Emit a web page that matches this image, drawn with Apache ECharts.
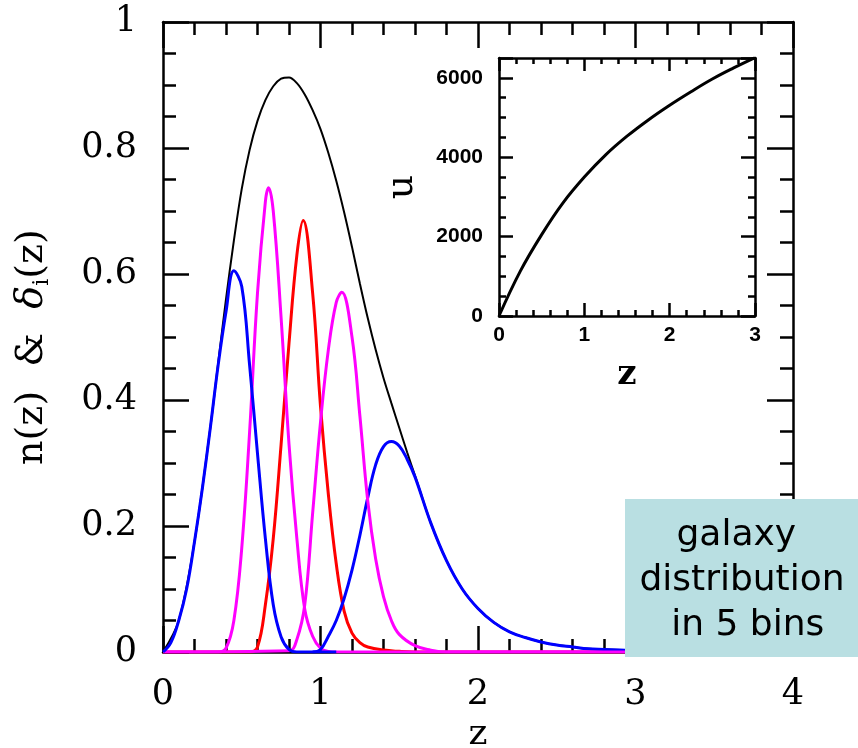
<!DOCTYPE html>
<html><head><meta charset="utf-8">
<script src="https://cdn.jsdelivr.net/npm/echarts@6/dist/echarts.min.js"></script>
<style>html,body{margin:0;padding:0;background:#fff}#c{width:858px;height:748px}</style>
</head><body><div id="c"></div>
<script>
// ---- main panel: n(z) and the 5 bins ----
const zBlack = [0,0.1,0.2,0.3,0.35,0.4,0.45,0.5,0.55,0.6,0.65,0.7,0.75,0.8,0.85,0.9,0.95,1.0,1.05,1.1,1.15,1.2,1.25,1.3,1.35,1.4,1.45,1.5,1.55,1.6,1.7,1.8,1.9,2.0,2.1,2.2,2.3,2.4,2.5,2.6,2.7,2.8,2.9,3.0];
const nBlack = [0,0.05,0.175,0.355,0.458,0.56,0.653,0.735,0.797,0.843,0.876,0.898,0.91,0.912,0.903,0.885,0.86,0.83,0.792,0.748,0.698,0.643,0.585,0.53,0.48,0.435,0.395,0.356,0.317,0.28,0.205,0.145,0.1,0.069,0.047,0.032,0.023,0.016,0.011,0.008,0.005,0.004,0.003,0.002];

const zBlue1 = [0,0.05,0.1,0.15,0.2,0.25,0.3,0.35,0.4,0.45,0.5,0.55,0.6,0.65,0.7,0.75,0.8,0.85,1.1];
const vBlue1 = [0,0.015,0.05,0.1,0.175,0.26,0.355,0.455,0.54,0.605,0.58,0.455,0.315,0.18,0.075,0.024,0.004,0,0];

const zMag1 = [0,0.35,0.4,0.45,0.5,0.55,0.6,0.65,0.67,0.7,0.75,0.8,0.85,0.9,0.95,1.0,1.05,1.1,3.0];
const vMag1 = [0,0,0.006,0.05,0.165,0.35,0.57,0.715,0.737,0.7,0.53,0.33,0.18,0.068,0.025,0.006,0.001,0,0];

const zRed = [0,0.55,0.6,0.65,0.7,0.75,0.8,0.85,0.89,0.95,1.0,1.05,1.1,1.15,1.2,1.25,1.3,1.4,1.5,1.6,3.0];
const vRed = [0,0,0.008,0.075,0.18,0.33,0.49,0.63,0.685,0.57,0.39,0.25,0.14,0.065,0.03,0.015,0.008,0.003,0.001,0,0];

const zMag2 = [0,0.8,0.85,0.9,0.95,1.0,1.05,1.1,1.135,1.2,1.25,1.3,1.35,1.4,1.45,1.5,1.6,1.7,1.8,3.0];
const vMag2 = [0,0.002,0.02,0.075,0.22,0.365,0.48,0.555,0.571,0.5,0.375,0.24,0.148,0.088,0.05,0.028,0.01,0.003,0,0];

const zBlue2 = [0.95,1.0,1.05,1.1,1.15,1.2,1.25,1.3,1.35,1.4,1.45,1.5,1.55,1.6,1.7,1.8,1.9,2.0,2.1,2.2,2.3,2.4,2.5,2.6,2.7,2.8,2.9,3.0];
const vBlue2 = [0,0.004,0.025,0.05,0.085,0.13,0.185,0.245,0.297,0.326,0.334,0.327,0.306,0.278,0.205,0.145,0.1,0.069,0.047,0.032,0.023,0.016,0.011,0.008,0.005,0.004,0.003,0.002];

// ---- inset: u(z) ----
const zU = [0,0.25,0.5,0.75,1.0,1.25,1.5,1.75,2.0,2.25,2.5,2.75,3.0];
const uVal = [0,1130,2050,2850,3500,4060,4530,4940,5310,5650,5970,6250,6510];

// ---- texts ----
const mainXName = 'z';
const mainYName = 'n(z)  &  {d|δ}{s|i}(z)';
const insetXName = 'z';
const insetYName = 'u';
const boxText = 'galaxy \ndistribution\n in 5 bins';

function pairs(xs, ys) { return xs.map((x, i) => [x, ys[i]]); }

const BLK = '#000';
function mkAxis(o) {
  return {
    type: 'value', gridIndex: o.grid, position: o.position,
    min: o.min, max: o.max, interval: o.interval,
    name: o.name || '', nameLocation: 'middle', nameGap: o.nameGap || 0,
    nameTextStyle: o.nameTextStyle || {},
    axisLine: { show: true, onZero: false, lineStyle: { color: BLK, width: o.lw } },
    axisTick: { show: true, inside: true, length: o.major, lineStyle: { color: BLK, width: o.lw } },
    minorTick: { show: true, splitNumber: o.split, length: o.minor, lineStyle: { color: BLK, width: o.lw } },
    splitLine: { show: false }, minorSplitLine: { show: false },
    axisLabel: o.label ? Object.assign({ show: true, color: BLK }, o.label) : { show: false }
  };
}

const serifLbl = { fontFamily: 'DejaVu Serif', fontSize: 35 };
const insetLbl = { fontFamily: 'Liberation Sans', fontWeight: 'bold', fontSize: 21, formatter: v => String(v) };

const option = {
  backgroundColor: '#fff',
  animation: false,
  grid: [
    { left: 163, top: 22, width: 630, height: 630, containLabel: false, outerBoundsMode: 'none' },
    { left: 499, top: 58, width: 256, height: 258, containLabel: false, outerBoundsMode: 'none' }
  ],
  xAxis: [
    mkAxis({ grid: 0, position: 'bottom', min: 0, max: 4, interval: 1, split: 5, major: 26, minor: 13, lw: 2.5,
      label: Object.assign({ margin: 25 }, serifLbl), name: mainXName, nameGap: 64,
      nameTextStyle: { fontFamily: 'DejaVu Serif', fontSize: 36, color: BLK } }),
    mkAxis({ grid: 0, position: 'top', min: 0, max: 4, interval: 1, split: 5, major: 26, minor: 13, lw: 2.5 }),
    mkAxis({ grid: 1, position: 'bottom', min: 0, max: 3, interval: 1, split: 5, major: 13, minor: 6, lw: 2.5,
      label: Object.assign({ margin: 9 }, insetLbl), name: insetXName, nameGap: 42,
      nameTextStyle: { fontFamily: 'DejaVu Serif', fontWeight: 'bold', fontSize: 34, color: BLK } }),
    mkAxis({ grid: 1, position: 'top', min: 0, max: 3, interval: 1, split: 5, major: 13, minor: 6, lw: 2.5 })
  ],
  yAxis: [
    mkAxis({ grid: 0, position: 'left', min: 0, max: 1, interval: 0.2, split: 4, major: 26, minor: 13, lw: 2.5,
      label: Object.assign({ margin: 26 }, serifLbl), name: mainYName, nameGap: 110,
      nameTextStyle: { fontFamily: 'DejaVu Serif', fontSize: 38, color: BLK, padding: [0, 20, 0, 0],
        rich: { d: { fontFamily: 'DejaVu Serif', fontStyle: 'italic', fontSize: 38, color: BLK },
                s: { fontFamily: 'DejaVu Serif', fontSize: 22, color: BLK, padding: [20, 0, 0, 0] } } } }),
    mkAxis({ grid: 0, position: 'right', min: 0, max: 1, interval: 0.2, split: 4, major: 26, minor: 13, lw: 2.5 }),
    mkAxis({ grid: 1, position: 'left', min: 0, max: 6500, interval: 2000, split: 4, major: 14, minor: 7, lw: 2.5,
      label: Object.assign({ margin: 16, showMaxLabel: false }, insetLbl), name: insetYName, nameGap: 78,
      nameTextStyle: { fontFamily: 'DejaVu Serif', fontSize: 38, color: BLK } }),
    mkAxis({ grid: 1, position: 'right', min: 0, max: 6500, interval: 2000, split: 4, major: 14, minor: 7, lw: 2.5 })
  ],
  series: [
    { name: 'n(z)', type: 'line', xAxisIndex: 0, yAxisIndex: 0, data: pairs(zBlack, nBlack), smooth: 0.35, symbol: 'none', lineStyle: { color: '#000', width: 2 } },
    { name: 'bin3', type: 'line', xAxisIndex: 0, yAxisIndex: 0, data: pairs(zRed, vRed), smooth: 0.4, symbol: 'none', lineStyle: { color: '#ff0000', width: 3 } },
    { name: 'bin2', type: 'line', xAxisIndex: 0, yAxisIndex: 0, data: pairs(zMag1, vMag1), smooth: 0.4, symbol: 'none', lineStyle: { color: '#ff00ff', width: 3 } },
    { name: 'bin5', type: 'line', xAxisIndex: 0, yAxisIndex: 0, data: pairs(zBlue2, vBlue2), smooth: 0.4, symbol: 'none', lineStyle: { color: '#0000ff', width: 3 } },
    { name: 'bin4', type: 'line', xAxisIndex: 0, yAxisIndex: 0, data: pairs(zMag2, vMag2), smooth: 0.4, symbol: 'none', lineStyle: { color: '#ff00ff', width: 3 } },
    { name: 'bin1', type: 'line', xAxisIndex: 0, yAxisIndex: 0, data: pairs(zBlue1, vBlue1), smooth: 0.4, symbol: 'none', lineStyle: { color: '#0000ff', width: 3 } },
    { name: 'u(z)', type: 'line', xAxisIndex: 2, yAxisIndex: 2, data: pairs(zU, uVal), smooth: 0.4, symbol: 'none', lineStyle: { color: '#000', width: 3 } }
  ],
  graphic: [
    { type: 'rect', z: 100, shape: { x: 625, y: 499, width: 240, height: 158 }, style: { fill: '#b9dfe2' } },
    { type: 'text', z: 101, style: { text: boxText, x: 742, y: 581, align: 'center', verticalAlign: 'middle',
        fontFamily: 'DejaVu Sans', fontSize: 36, lineHeight: 45, fill: '#000' } }
  ]
};
const chart = echarts.init(document.getElementById('c'));
chart.setOption(option);
</script>
</body></html>
